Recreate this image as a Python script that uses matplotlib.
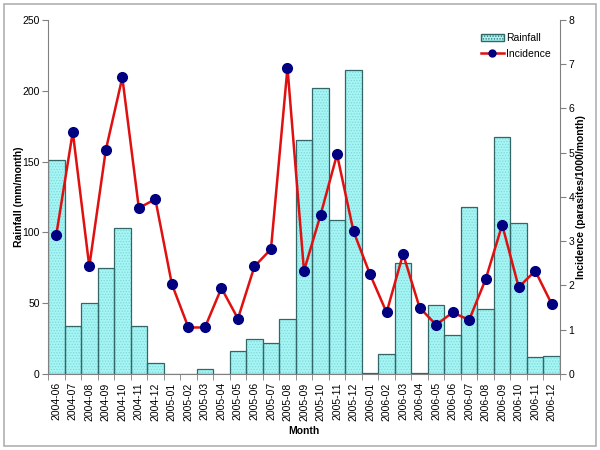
import matplotlib
matplotlib.use("Agg")
import matplotlib.pyplot as plt
from matplotlib.patches import Rectangle
from matplotlib.lines import Line2D
from matplotlib.patches import Patch

months = ["2004-06", "2004-07", "2004-08", "2004-09", "2004-10", "2004-11", "2004-12",
          "2005-01", "2005-02", "2005-03", "2005-04", "2005-05", "2005-06", "2005-07",
          "2005-08", "2005-09", "2005-10", "2005-11", "2005-12",
          "2006-01", "2006-02", "2006-03", "2006-04", "2006-05", "2006-06", "2006-07",
          "2006-08", "2006-09", "2006-10", "2006-11", "2006-12"]
rainfall = [151, 34, 50, 75, 103, 34, 7.5, 0, 0, 3.3, 0, 16.5, 24.5, 22, 38.5,
            165, 202, 109, 214.5, 0.5, 14, 78, 0.5, 49, 27.5, 118, 46, 167, 106.5, 12, 12.7]
incidence = [3.14, 5.47, 2.43, 5.06, 6.70, 3.75, 3.95, 2.03, 1.05, 1.05, 1.94, 1.25,
             2.43, 2.82, 6.92, 2.33, 3.59, 4.96, 3.22, 2.25, 1.39, 2.71, 1.50, 1.11,
             1.39, 1.22, 2.14, 3.37, 1.96, 2.33, 1.58]

plt.rcParams['font.family'] = ['Liberation Sans', 'DejaVu Sans']
plt.rcParams['hatch.linewidth'] = 0.6

fill_color = '#a6f5f5'
hatch_color = '#7fd8d8'
edge_color = '#336666'

fig = plt.figure(figsize=(6, 4.5), dpi=100)
fig.patches.append(Rectangle((0.006, 0.009), 0.988, 0.982, transform=fig.transFigure,
                             fill=False, edgecolor='#b0b0b0', linewidth=1.2))
ax = fig.add_axes([0.08, 0.169, 0.8533, 0.7867])
x = list(range(len(months)))
ax.bar(x, rainfall, width=1.0, color=fill_color, edgecolor=hatch_color, linewidth=0,
       hatch='......', zorder=2)
ax.bar(x, rainfall, width=1.0, fill=False, edgecolor=edge_color, linewidth=0.9, zorder=2.1)
ax.set_xlim(-0.5, len(months) - 0.5)
ax.set_ylim(0, 250)
ax.set_yticks([0, 50, 100, 150, 200, 250])
ax.set_xticks(x)
ax.set_xticklabels(months, rotation=90, fontsize=7.5)
ax.tick_params(axis='y', labelsize=7.5, color='#808080', length=4, pad=2)
ax.tick_params(axis='x', length=0, pad=6)
ax.set_xticks([i - 0.5 for i in range(len(months) + 1)], minor=True)
ax.tick_params(axis='x', which='minor', length=4, color='#808080')
for s in ['top', 'right']:
    ax.spines[s].set_visible(False)
ax.spines['left'].set_color('#808080')
ax.spines['bottom'].set_color('#808080')
ax.set_ylabel('Rainfall (mm/month)', fontsize=7.5, fontweight='bold')
ax.yaxis.set_label_coords(-0.047, 0.5)
ax.set_xlabel('Month', fontsize=7.5, fontweight='bold', labelpad=4)

ax2 = ax.twinx()
ax2.plot(x, incidence, color='#e01010', linewidth=1.8, marker='o', markersize=7,
         markerfacecolor='#000080', markeredgecolor='#000080', zorder=3)
ax2.set_ylim(0, 8)
ax2.set_yticks(range(0, 9))
ax2.tick_params(axis='y', labelsize=7.5, color='#808080', length=4, pad=2)
ax2.spines['top'].set_visible(False)
ax2.spines['left'].set_visible(False)
ax2.spines['bottom'].set_visible(False)
ax2.spines['right'].set_color('#808080')
ax2.set_ylabel('Incidence (parasites/1000/month)', fontsize=7.5, fontweight='bold')
ax2.yaxis.set_label_coords(1.032, 0.5)

handles = [Patch(facecolor=fill_color, edgecolor=edge_color, hatch='......', label='Rainfall'),
           Line2D([0], [0], color='#e01010', linewidth=1.8, marker='o', markersize=5,
                  markerfacecolor='#000080', markeredgecolor='#000080', label='Incidence')]
ax2.legend(handles=handles, loc='upper right', bbox_to_anchor=(1.0, 0.99), frameon=False,
           fontsize=7.5, handlelength=2.2, handletextpad=0.2, labelspacing=0.6)

fig.savefig('out.png', dpi=100)
